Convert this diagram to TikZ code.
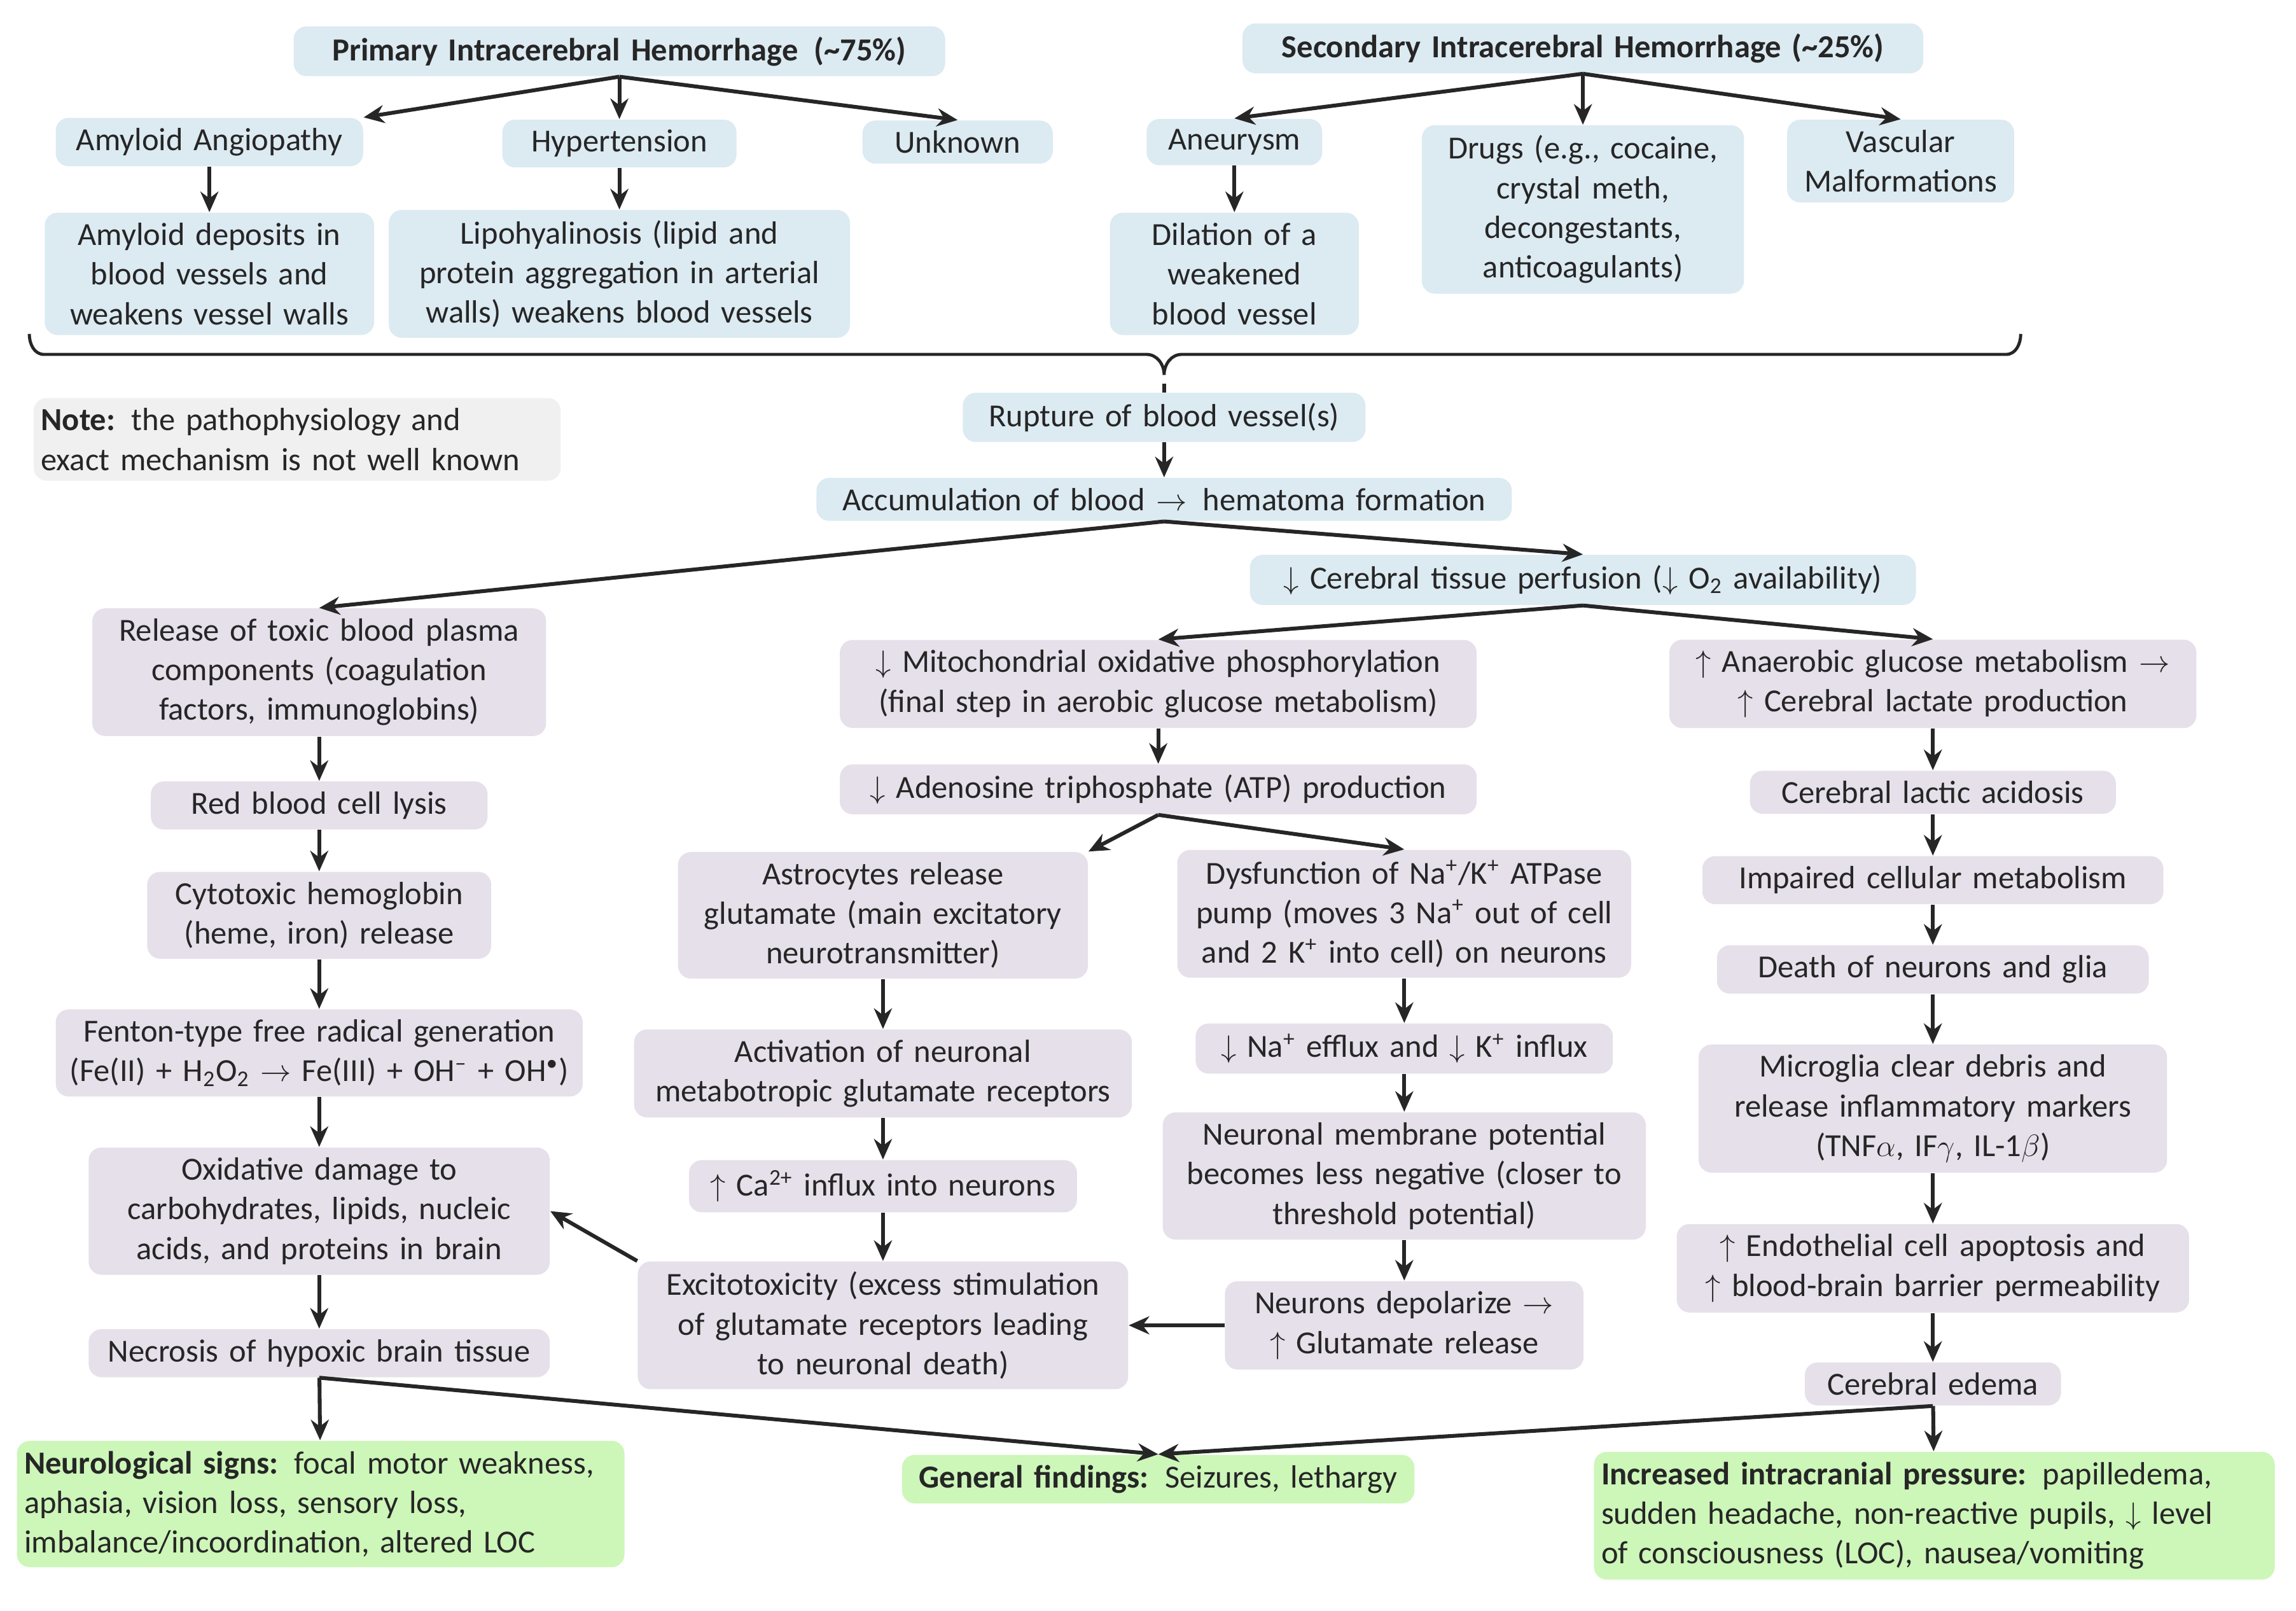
\documentclass[tikz,border=0pt]{standalone}
\usepackage{fontspec}
\setmainfont{Carlito}
\usetikzlibrary{arrows.meta}
\definecolor{bluebox}{HTML}{DCEAF2}
\definecolor{purplebox}{HTML}{E6E0EA}
\definecolor{greenbox}{HTML}{CDF6B9}
\definecolor{notebox}{HTML}{F0F0F0}
\tikzset{
  bx/.style={rounded corners=5pt, inner xsep=0.1cm, inner ysep=0.14cm, align=center,
    font=\fontsize{12.5}{15.4}\selectfont, text=black!85},
  bb/.style={bx, fill=bluebox},
  pb/.style={bx, fill=purplebox},
  gb/.style={bx, fill=greenbox, align=left},
  arr/.style={-{Stealth[length=8pt,width=7pt]}, line width=1.5pt, black!85},
}
\newcommand{\dn}{$\downarrow$}
\newcommand{\up}{$\uparrow$}
\newcommand{\ra}{$\rightarrow$}
\begin{document}
\begin{tikzpicture}[x=0.02cm, y=-0.02cm]
\useasboundingbox (0,0) rectangle (1568,1100);
% top causes
\node[bb, text width=8.7cm] (prim) at (423,35) {\textbf{Primary Intracerebral Hemorrhage\enspace(\textasciitilde75\%)}};
\node[bb, text width=9.1cm] (sec) at (1081,33) {\textbf{Secondary Intracerebral Hemorrhage (\textasciitilde25\%)}};
\node[bb, text width=4.0cm] (amy) at (143,97) {Amyloid Angiopathy};
\node[bb, text width=3.0cm] (hyp) at (423,98) {Hypertension};
\node[bb, text width=2.4cm] (unk) at (654,97) {Unknown};
\node[bb, text width=2.2cm] (aneu) at (843,97) {Aneurysm};
\node[bb, text width=4.2cm] (drug) at (1081,143) {Drugs (e.g., cocaine,\\crystal meth,\\decongestants,\\anticoagulants)};
\node[bb, text width=2.9cm] (vasc) at (1298,110) {Vascular\\Malformations};
\node[bb, text width=4.3cm] (amyd) at (143,187) {Amyloid deposits in\\blood vessels and\\weakens vessel walls};
\node[bb, text width=6.1cm] (lipo) at (423,187) {Lipohyalinosis (lipid and\\protein aggregation in arterial\\walls) weakens blood vessels};
\node[bb, text width=3.2cm] (dila) at (843,187) {Dilation of a\\weakened\\blood vessel};
\draw[arr] (prim.south) -- (amy.north east);
\draw[arr] (prim.south) -- (hyp);
\draw[arr] (prim.south) -- (unk.north);
\draw[arr] (sec.south) -- (aneu.north);
\draw[arr] (sec.south) -- (drug);
\draw[arr] (sec.south) -- (vasc.north);
\draw[arr] (amy) -- (amyd);
\draw[arr] (hyp) -- (lipo);
\draw[arr] (aneu) -- (dila);
% brace
\coordinate (tip) at (795,262);
\draw[line width=1.2pt, black!85] (20,228) to[out=-90,in=180] (30,242) -- (783,242)
  to[out=0,in=90] (795,256) to[out=90,in=180] (807,242) -- (1370,242) to[out=0,in=-90] (1380,228);
\node[bx, fill=notebox, text width=7.0cm, align=left] (note) at (203,300) {\textbf{Note:} the pathophysiology and\\exact mechanism is not well known};
\node[bb, text width=5.3cm] (rupt) at (795,285) {Rupture of blood vessel(s)};
\node[bb, text width=9.3cm] (accu) at (795,341) {Accumulation of blood \ra\enspace hematoma formation};
\node[bb, text width=8.9cm] (perf) at (1081,396) {\dn\ Cerebral tissue perfusion (\dn\ O\textsubscript{2} availability)};
% left column
\node[pb, text width=6.0cm] (tox) at (218,459) {Release of toxic blood plasma\\components (coagulation\\factors, immunoglobins)};
\node[pb, text width=4.4cm] (rbc) at (218,550) {Red blood cell lysis};
\node[pb, text width=4.5cm] (hem) at (218,625) {Cytotoxic hemoglobin\\(heme, iron) release};
\node[pb, text width=7.0cm] (fent) at (218,719) {Fenton-type free radical generation\\(Fe(II) + H\textsubscript{2}O\textsubscript{2} \ra\ Fe(III) + OH\textsuperscript{--} + OH\textsuperscript{\textbullet})};
\node[pb, text width=6.1cm] (oxid) at (218,827) {Oxidative damage to\\carbohydrates, lipids, nucleic\\acids, and proteins in brain};
\node[pb, text width=6.1cm] (necr) at (218,924) {Necrosis of hypoxic brain tissue};
% middle column
\node[pb, text width=8.5cm] (mito) at (791,467) {\dn\ Mitochondrial oxidative phosphorylation\\(final step in aerobic glucose metabolism)};
\node[pb, text width=8.5cm] (atp) at (791,539) {\dn\ Adenosine triphosphate (ATP) production};
\node[pb, text width=5.4cm] (astr) at (603,625) {Astrocytes release\\glutamate (main excitatory\\neurotransmitter)};
\node[pb, text width=6.6cm] (actv) at (603,733) {Activation of neuronal\\metabotropic glutamate receptors};
\node[pb, text width=5.1cm] (calc) at (603,810) {\up\ Ca\textsuperscript{2+} influx into neurons};
\node[pb, text width=6.5cm] (exci) at (603,905) {Excitotoxicity (excess stimulation\\of glutamate receptors leading\\to neuronal death)};
\node[pb, text width=6.0cm] (pump) at (959,624) {Dysfunction of Na\textsuperscript{+}/K\textsuperscript{+} ATPase\\pump (moves 3 Na\textsuperscript{+} out of cell\\and 2 K\textsuperscript{+} into cell) on neurons};
\node[pb, text width=5.5cm] (effl) at (959,716) {\dn\ Na\textsuperscript{+} efflux and \dn\ K\textsuperscript{+} influx};
\node[pb, text width=6.4cm] (memb) at (959,803) {Neuronal membrane potential\\becomes less negative (closer to\\threshold potential)};
\node[pb, text width=4.7cm] (depo) at (959,905) {Neurons depolarize \ra\\\up\ Glutamate release};
% right column
\node[pb, text width=7.0cm] (anae) at (1320,467) {\up\ Anaerobic glucose metabolism \ra\\\up\ Cerebral lactate production};
\node[pb, text width=4.8cm] (lact) at (1320,541) {Cerebral lactic acidosis};
\node[pb, text width=6.1cm] (impa) at (1320,601) {Impaired cellular metabolism};
\node[pb, text width=5.7cm] (deat) at (1320,662) {Death of neurons and glia};
\node[pb, text width=6.2cm] (micr) at (1320,757) {Microglia clear debris and\\release inflammatory markers\\(TNF$\alpha$, IF$\gamma$, IL-1$\beta$)};
\node[pb, text width=6.8cm] (endo) at (1320,866) {\up\ Endothelial cell apoptosis and\\\up\ blood-brain barrier permeability};
\node[pb, text width=3.3cm] (edem) at (1320,945) {Cerebral edema};
% findings
\node[gb, text width=8.1cm] (neur) at (219,1027) {\textbf{Neurological signs:} focal motor weakness,\\aphasia, vision loss, sensory loss,\\imbalance/incoordination, altered LOC};
\node[gb, text width=6.8cm, align=center] (genf) at (791,1010) {\textbf{General findings:} Seizures, lethargy};
\node[gb, text width=9.1cm] (icp) at (1321,1035) {\textbf{Increased intracranial pressure:} papilledema,\\sudden headache, non-reactive pupils, \dn\ level\\of consciousness (LOC), nausea/vomiting};
% connectors
\draw[line width=1.5pt, black!85] (tip) -- (rupt);
\draw[arr] (rupt) -- (accu);
\draw[arr] (accu.south) -- (tox.north);
\draw[arr] (accu.south) -- (perf.north);
\draw[arr] (perf.south) -- (mito.north);
\draw[arr] (perf.south) -- (anae.north);
\draw[arr] (tox) -- (rbc);
\draw[arr] (rbc) -- (hem);
\draw[arr] (hem) -- (fent);
\draw[arr] (fent) -- (oxid);
\draw[arr] (oxid) -- (necr);
\draw[arr] (mito) -- (atp);
\draw[arr] (atp.south) -- (astr.north east);
\draw[arr] (atp.south) -- (pump.north);
\draw[arr] (astr) -- (actv);
\draw[arr] (actv) -- (calc);
\draw[arr] (calc) -- (exci);
\draw[arr] (pump) -- (effl);
\draw[arr] (effl) -- (memb);
\draw[arr] (memb) -- (depo);
\draw[arr] (depo) -- (exci);
\draw[arr] (exci.north west) -- (oxid.east);
\draw[arr] (anae) -- (lact);
\draw[arr] (lact) -- (impa);
\draw[arr] (impa) -- (deat);
\draw[arr] (deat) -- (micr);
\draw[arr] (micr) -- (endo);
\draw[arr] (endo) -- (edem);
\draw[arr] (necr) -- (neur);
\draw[arr] (necr.south) -- (genf.north);
\draw[arr] (edem.south) -- (genf.north);
\draw[arr] (edem) -- (icp);
\end{tikzpicture}
\end{document}
